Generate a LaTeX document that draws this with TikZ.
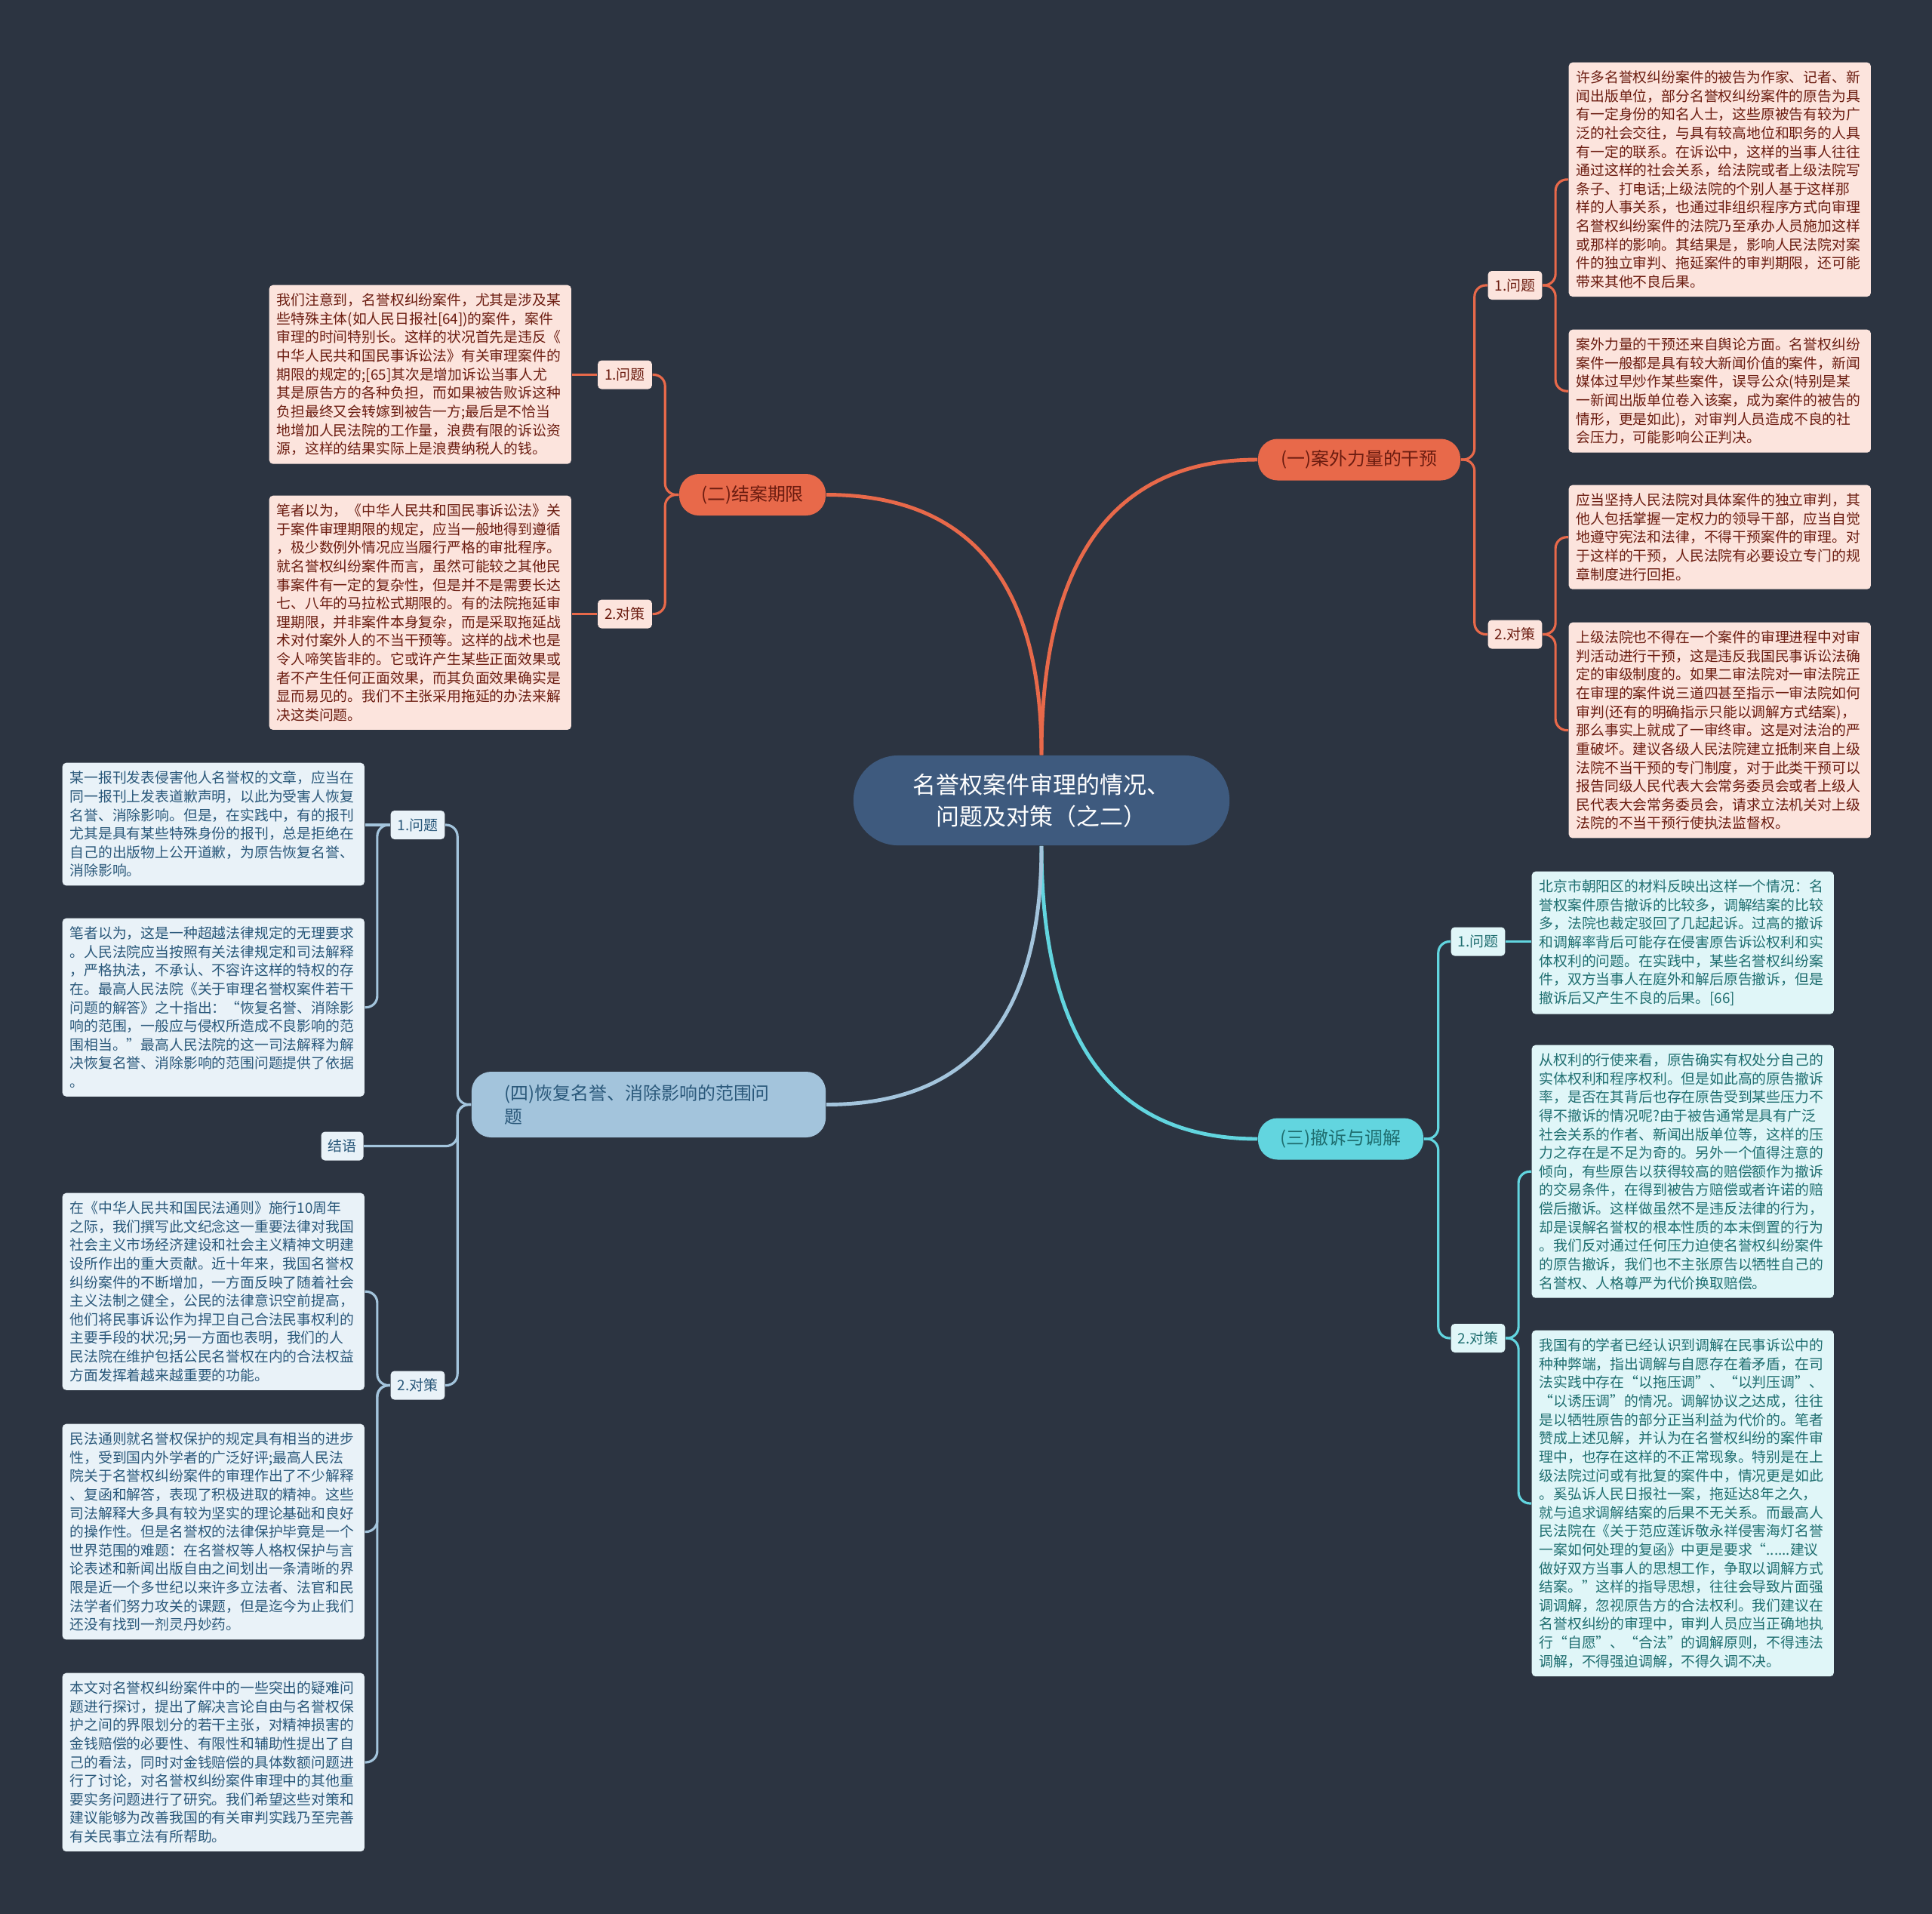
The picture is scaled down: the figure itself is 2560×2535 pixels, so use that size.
\documentclass[tikz,border=0pt]{standalone}
\usepackage{fontspec}
\setmainfont{Noto Sans CJK SC}

\definecolor{bgcol}{HTML}{2C3441}
\definecolor{rootcol}{HTML}{3E5A7E}
\definecolor{orgcol}{HTML}{E8694A}
\definecolor{pinkfill}{HTML}{FCE4DD}
\definecolor{pinktext}{HTML}{6B1C10}
\definecolor{cyancol}{HTML}{62D5DF}
\definecolor{tealfill}{HTML}{E0F6F8}
\definecolor{tealtext}{HTML}{1F6E70}
\definecolor{palecol}{HTML}{A3C4DC}
\definecolor{palefill}{HTML}{E9F2F8}
\definecolor{paletext}{HTML}{2A587A}

\begin{document}
\begin{tikzpicture}[x=0.01cm,y=-0.01cm,
  leaf/.style={rounded corners=0.05cm,inner xsep=0.1cm,inner ysep=0.11cm,
    text width=3.8cm,align=left,anchor=north west,
    font=\fontsize{5.35pt}{7pt}\selectfont},
  tag/.style={rounded corners=0.05cm,inner xsep=0.09cm,inner ysep=0pt,
    minimum height=0.38cm,font=\fontsize{5.4pt}{7pt}\selectfont},
  branch/.style={rounded corners=0.26cm,minimum height=0.55cm,
    font=\fontsize{6.8pt}{8.8pt}\selectfont},
  pinkbox/.style={fill=pinkfill,text=pinktext},
  tealbox/.style={fill=tealfill,text=tealtext},
  palebox/.style={fill=palefill,text=paletext},
  link/.style={draw=#1,line width=0.9pt,rounded corners=0.15cm},
  trunk/.style={draw=#1,line width=1.4pt}]

\useasboundingbox (0,0) rectangle (2560,2535);
\fill[bgcol] (-5,-5) rectangle (2565,2540);

% Centre topic
\node[fill=rootcol,text=white,rounded corners=0.59cm,minimum width=4.98cm,
  minimum height=1.19cm,align=center,font=\fontsize{8.8pt}{12pt}\selectfont]
  (root) at (1380,1060.5) {名誉权案件审理的情况、\\问题及对策（之二）};

% Main branches
\node[branch,fill=orgcol,text=pinktext,minimum width=2.68cm] (ganyu) at (1801,609) {(一)案外力量的干预};
\node[branch,fill=orgcol,text=pinktext,minimum width=1.94cm] (qixian) at (997,655.5) {(二)结案期限};
\node[branch,fill=cyancol,text=tealtext,minimum width=2.19cm] (chesu) at (1776.5,1509) {(三)撤诉与调解};
\node[branch,fill=palecol,text=paletext,minimum height=0.87cm,inner xsep=0.44cm,
  text width=3.81cm,align=left] (huifu) at (859.5,1463.5) {(四)恢复名誉、消除影响的范围问\\题};

\draw[trunk=orgcol] (root.north) .. controls +(0,-260) and +(-190,0) .. (ganyu.west);
\draw[trunk=orgcol] (root.north) .. controls +(0,-230) and +(190,0) .. (qixian.east);
\draw[trunk=cyancol] (root.south) .. controls +(0,260) and +(-190,0) .. (chesu.west);
\draw[trunk=palecol] (root.south) .. controls +(0,230) and +(190,0) .. (huifu.east);

% (一) 案外力量的干预
\node[tag,pinkbox] (gyWen) at (2007.5,378) {1.问题};
\node[tag,pinkbox] (gyDui) at (2007.5,840.5) {2.对策};
\node[leaf,pinkbox] (gyA) at (2078,82) {许多名誉权纠纷案件的被告为作家、记者、新\\闻出版单位，部分名誉权纠纷案件的原告为具\\有一定身份的知名人士，这些原被告有较为广\\泛的社会交往，与具有较高地位和职务的人具\\有一定的联系。在诉讼中，这样的当事人往往\\通过这样的社会关系，给法院或者上级法院写\\条子、打电话;上级法院的个别人基于这样那\\样的人事关系，也通过非组织程序方式向审理\\名誉权纠纷案件的法院乃至承办人员施加这样\\或那样的影响。其结果是，影响人民法院对案\\件的独立审判、拖延案件的审判期限，还可能\\带来其他不良后果。};
\node[leaf,pinkbox] (gyB) at (2078,436) {案外力量的干预还来自舆论方面。名誉权纠纷\\案件一般都是具有较大新闻价值的案件，新闻\\媒体过早炒作某些案件，误导公众(特别是某\\一新闻出版单位卷入该案，成为案件的被告的\\情形，更是如此)，对审判人员造成不良的社\\会压力，可能影响公正判决。};
\node[leaf,pinkbox] (gyC) at (2078,642) {应当坚持人民法院对具体案件的独立审判，其\\他人包括掌握一定权力的领导干部，应当自觉\\地遵守宪法和法律，不得干预案件的审理。对\\于这样的干预，人民法院有必要设立专门的规\\章制度进行回拒。};
\node[leaf,pinkbox] (gyD) at (2078,824) {上级法院也不得在一个案件的审理进程中对审\\判活动进行干预，这是违反我国民事诉讼法确\\定的审级制度的。如果二审法院对一审法院正\\在审理的案件说三道四甚至指示一审法院如何\\审判(还有的明确指示只能以调解方式结案)，\\那么事实上就成了一审终审。这是对法治的严\\重破坏。建议各级人民法院建立抵制来自上级\\法院不当干预的专门制度，对于此类干预可以\\报告同级人民代表大会常务委员会或者上级人\\民代表大会常务委员会，请求立法机关对上级\\法院的不当干预行使执法监督权。};

\draw[link=orgcol] (ganyu.east) -- ++(18,0) |- (gyWen.west);
\draw[link=orgcol] (ganyu.east) -- ++(18,0) |- (gyDui.west);
\draw[link=orgcol] (gyWen.east) -- ++(17,0) |- (gyA.west);
\draw[link=orgcol] (gyWen.east) -- ++(17,0) |- (gyB.west);
\draw[link=orgcol] (gyDui.east) -- ++(17,0) |- (gyC.west);
\draw[link=orgcol] (gyDui.east) -- ++(17,0) |- (gyD.west);

% (二) 结案期限
\node[tag,pinkbox] (qxWen) at (828,496.5) {1.问题};
\node[tag,pinkbox] (qxDui) at (828,813.5) {2.对策};
\node[leaf,pinkbox] (qxA) at (356,377) {我们注意到，名誉权纠纷案件，尤其是涉及某\\些特殊主体(如人民日报社[64])的案件，案件\\审理的时间特别长。这样的状况首先是违反《\\中华人民共和国民事诉讼法》有关审理案件的\\期限的规定的;[65]其次是增加诉讼当事人尤\\其是原告方的各种负担，而如果被告败诉这种\\负担最终又会转嫁到被告一方;最后是不恰当\\地增加人民法院的工作量，浪费有限的诉讼资\\源，这样的结果实际上是浪费纳税人的钱。};
\node[leaf,pinkbox] (qxB) at (356,656) {笔者以为，《中华人民共和国民事诉讼法》关\\于案件审理期限的规定，应当一般地得到遵循\\，极少数例外情况应当履行严格的审批程序。\\就名誉权纠纷案件而言，虽然可能较之其他民\\事案件有一定的复杂性，但是并不是需要长达\\七、八年的马拉松式期限的。有的法院拖延审\\理期限，并非案件本身复杂，而是采取拖延战\\术对付案外人的不当干预等。这样的战术也是\\令人啼笑皆非的。它或许产生某些正面效果或\\者不产生任何正面效果，而其负面效果确实是\\显而易见的。我们不主张采用拖延的办法来解\\决这类问题。};

\draw[link=orgcol] (qixian.west) -- ++(-18,0) |- (qxWen.east);
\draw[link=orgcol] (qixian.west) -- ++(-18,0) |- (qxDui.east);
\draw[link=orgcol] (qxWen.west) -- (qxWen.west -| qxA.east);
\draw[link=orgcol] (qxDui.west) -- (qxDui.west -| qxB.east);

% (三) 撤诉与调解
\node[tag,tealbox] (csWen) at (1958.5,1247.5) {1.问题};
\node[tag,tealbox] (csDui) at (1958.5,1773) {2.对策};
\node[leaf,tealbox] (csA) at (2029,1154) {北京市朝阳区的材料反映出这样一个情况：名\\誉权案件原告撤诉的比较多，调解结案的比较\\多，法院也裁定驳回了几起起诉。过高的撤诉\\和调解率背后可能存在侵害原告诉讼权利和实\\体权利的问题。在实践中，某些名誉权纠纷案\\件，双方当事人在庭外和解后原告撤诉，但是\\撤诉后又产生不良的后果。[66]};
\node[leaf,tealbox] (csB) at (2029,1384) {从权利的行使来看，原告确实有权处分自己的\\实体权利和程序权利。但是如此高的原告撤诉\\率，是否在其背后也存在原告受到某些压力不\\得不撤诉的情况呢?由于被告通常是具有广泛\\社会关系的作者、新闻出版单位等，这样的压\\力之存在是不足为奇的。另外一个值得注意的\\倾向，有些原告以获得较高的赔偿额作为撤诉\\的交易条件，在得到被告方赔偿或者许诺的赔\\偿后撤诉。这样做虽然不是违反法律的行为，\\却是误解名誉权的根本性质的本末倒置的行为\\。我们反对通过任何压力迫使名誉权纠纷案件\\的原告撤诉，我们也不主张原告以牺牲自己的\\名誉权、人格尊严为代价换取赔偿。};
\node[leaf,tealbox] (csC) at (2029,1762) {我国有的学者已经认识到调解在民事诉讼中的\\种种弊端，指出调解与自愿存在着矛盾，在司\\法实践中存在“以拖压调”、“以判压调”、\\“以诱压调”的情况。调解协议之达成，往往\\是以牺牲原告的部分正当利益为代价的。笔者\\赞成上述见解，并认为在名誉权纠纷的案件审\\理中，也存在这样的不正常现象。特别是在上\\级法院过问或有批复的案件中，情况更是如此\\。奚弘诉人民日报社一案，拖延达8年之久，\\就与追求调解结案的后果不无关系。而最高人\\民法院在《关于范应莲诉敬永祥侵害海灯名誉\\一案如何处理的复函》中更是要求“......建议\\做好双方当事人的思想工作，争取以调解方式\\结案。”这样的指导思想，往往会导致片面强\\调调解，忽视原告方的合法权利。我们建议在\\名誉权纠纷的审理中，审判人员应当正确地执\\行“自愿”、“合法”的调解原则，不得违法\\调解，不得强迫调解，不得久调不决。};

\draw[link=cyancol] (chesu.east) -- ++(19,0) |- (csWen.west);
\draw[link=cyancol] (chesu.east) -- ++(19,0) |- (csDui.west);
\draw[link=cyancol] (csWen.east) -- (csWen.east -| csA.west);
\draw[link=cyancol] (csDui.east) -- ++(17,0) |- (csB.west);
\draw[link=cyancol] (csDui.east) -- ++(17,0) |- (csC.west);

% (四) 恢复名誉、消除影响的范围问题
\node[tag,palebox] (hfWen) at (553.5,1093) {1.问题};
\node[tag,palebox] (hfJie) at (453.5,1518.5) {结语};
\node[tag,palebox] (hfDui) at (553.5,1835.5) {2.对策};
\node[leaf,palebox] (hfA) at (82,1010) {某一报刊发表侵害他人名誉权的文章，应当在\\同一报刊上发表道歉声明，以此为受害人恢复\\名誉、消除影响。但是，在实践中，有的报刊\\尤其是具有某些特殊身份的报刊，总是拒绝在\\自己的出版物上公开道歉，为原告恢复名誉、\\消除影响。};
\node[leaf,palebox] (hfB) at (82,1216) {笔者以为，这是一种超越法律规定的无理要求\\。人民法院应当按照有关法律规定和司法解释\\，严格执法，不承认、不容许这样的特权的存\\在。最高人民法院《关于审理名誉权案件若干\\问题的解答》之十指出：“恢复名誉、消除影\\响的范围，一般应与侵权所造成不良影响的范\\围相当。”最高人民法院的这一司法解释为解\\决恢复名誉、消除影响的范围问题提供了依据\\。};
\node[leaf,palebox] (hfC) at (82,1580) {在《中华人民共和国民法通则》施行10周年\\之际，我们撰写此文纪念这一重要法律对我国\\社会主义市场经济建设和社会主义精神文明建\\设所作出的重大贡献。近十年来，我国名誉权\\纠纷案件的不断增加，一方面反映了随着社会\\主义法制之健全，公民的法律意识空前提高，\\他们将民事诉讼作为捍卫自己合法民事权利的\\主要手段的状况;另一方面也表明，我们的人\\民法院在维护包括公民名誉权在内的合法权益\\方面发挥着越来越重要的功能。};
\node[leaf,palebox] (hfD) at (82,1886) {民法通则就名誉权保护的规定具有相当的进步\\性，受到国内外学者的广泛好评;最高人民法\\院关于名誉权纠纷案件的审理作出了不少解释\\、复函和解答，表现了积极进取的精神。这些\\司法解释大多具有较为坚实的理论基础和良好\\的操作性。但是名誉权的法律保护毕竟是一个\\世界范围的难题：在名誉权等人格权保护与言\\论表述和新闻出版自由之间划出一条清晰的界\\限是近一个多世纪以来许多立法者、法官和民\\法学者们努力攻关的课题，但是迄今为止我们\\还没有找到一剂灵丹妙药。};
\node[leaf,palebox] (hfE) at (82,2216) {本文对名誉权纠纷案件中的一些突出的疑难问\\题进行探讨，提出了解决言论自由与名誉权保\\护之间的界限划分的若干主张，对精神损害的\\金钱赔偿的必要性、有限性和辅助性提出了自\\己的看法，同时对金钱赔偿的具体数额问题进\\行了讨论，对名誉权纠纷案件审理中的其他重\\要实务问题进行了研究。我们希望这些对策和\\建议能够为改善我国的有关审判实践乃至完善\\有关民事立法有所帮助。};

\draw[link=palecol] (huifu.west) -- ++(-18,0) |- (hfWen.east);
\draw[link=palecol] (huifu.west) -- ++(-18,0) |- (hfJie.east);
\draw[link=palecol] (huifu.west) -- ++(-18,0) |- (hfDui.east);
\draw[link=palecol] (hfWen.west) -- (hfWen.west -| hfA.east);
\draw[link=palecol] (hfWen.west) -- ++(-17,0) |- (hfB.east);
\draw[link=palecol] (hfDui.west) -- ++(-17,0) |- (hfC.east);
\draw[link=palecol] (hfDui.west) -- ++(-17,0) |- (hfD.east);
\draw[link=palecol] (hfDui.west) -- ++(-17,0) |- (hfE.east);
\end{tikzpicture}
\end{document}
